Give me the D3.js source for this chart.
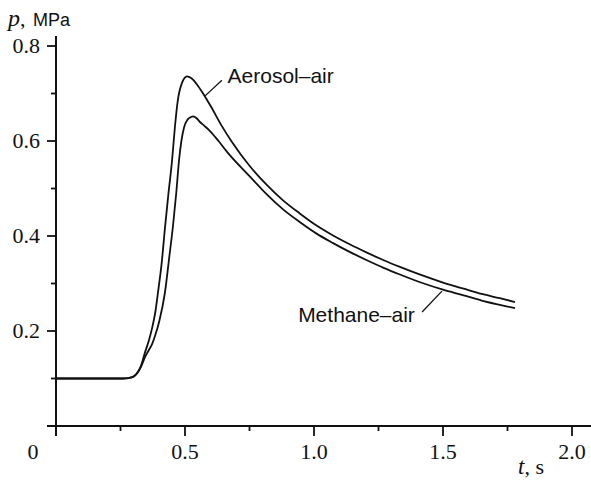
<!DOCTYPE html>
<html>
<head>
<meta charset="utf-8">
<script src="https://cdn.jsdelivr.net/npm/d3@7"></script>
<style>
  html, body { margin: 0; padding: 0; background: #fff; }
  svg { display: block; }
</style>
</head>
<body>
<svg id="chart" width="591" height="481"></svg>
<script>
// Pressure history p(t) for two mixtures
const aerosolT = [0, 0.26, 0.28, 0.30, 0.315, 0.33, 0.345, 0.36, 0.372, 0.385, 0.395, 0.41, 0.422, 0.435, 0.45, 0.461, 0.472, 0.488, 0.508, 0.525, 0.545, 0.57, 0.60, 0.64, 0.682, 0.75, 0.818, 0.88, 0.946, 1.01, 1.074, 1.14, 1.205, 1.27, 1.333, 1.42, 1.5, 1.58, 1.65, 1.72, 1.779];
const aerosolP = [0.1, 0.1, 0.101, 0.104, 0.112, 0.128, 0.155, 0.18, 0.205, 0.24, 0.28, 0.345, 0.415, 0.485, 0.56, 0.63, 0.685, 0.722, 0.736, 0.732, 0.72, 0.70, 0.673, 0.634, 0.598, 0.548, 0.507, 0.475, 0.447, 0.422, 0.401, 0.382, 0.365, 0.349, 0.335, 0.317, 0.302, 0.289, 0.278, 0.269, 0.261];

const methaneT = [0, 0.26, 0.28, 0.30, 0.315, 0.33, 0.345, 0.36, 0.372, 0.384, 0.40, 0.422, 0.44, 0.453, 0.466, 0.477, 0.486, 0.496, 0.51, 0.522, 0.531, 0.545, 0.558, 0.575, 0.597, 0.63, 0.663, 0.75, 0.818, 0.88, 0.946, 1.01, 1.074, 1.14, 1.205, 1.27, 1.333, 1.42, 1.5, 1.58, 1.65, 1.72, 1.779];
const methaneP = [0.1, 0.1, 0.101, 0.104, 0.111, 0.125, 0.145, 0.16, 0.172, 0.19, 0.22, 0.28, 0.36, 0.419, 0.49, 0.56, 0.60, 0.628, 0.645, 0.65, 0.652, 0.648, 0.64, 0.632, 0.621, 0.600, 0.577, 0.526, 0.487, 0.456, 0.429, 0.405, 0.385, 0.366, 0.349, 0.333, 0.319, 0.301, 0.287, 0.275, 0.264, 0.255, 0.248];

const xMajorTicks = [0, 0.5, 1.0, 1.5, 2.0];
const xMinorTicks = [0.25, 0.75, 1.25, 1.75];
const xTickLabels = ["0", "0.5", "1.0", "1.5", "2.0"];
const yMajorTicks = [0.2, 0.4, 0.6, 0.8];
const yMinorTicks = [0.1, 0.3, 0.5, 0.7];
const yTickLabels = ["0.2", "0.4", "0.6", "0.8"];

// Curve labels with leader lines, in data units
const curveLabels = [
  { text: "Aerosol\u2013air", t: 0.665, p: 0.722, anchor: "start", from: [0.643, 0.728], to: [0.578, 0.695] },
  { text: "Methane\u2013air", t: 1.391, p: 0.219, anchor: "end", from: [1.419, 0.240], to: [1.496, 0.284] }
];

const svg = d3.select("#chart");
const x = d3.scaleLinear().domain([0, 2]).range([56, 572]);
const y = d3.scaleLinear().domain([0, 0.8]).range([426, 46]);

const ink = "#111";
const serif = "'Liberation Serif', 'Times New Roman', serif";
const sans = "'Liberation Sans', Arial, sans-serif";

// x axis
const xAxis = svg.append("g").attr("transform", `translate(0,${y(0)})`);
xAxis.append("line").attr("x1", 47).attr("x2", 591).attr("y1", 0).attr("y2", 0)
  .attr("stroke", ink).attr("stroke-width", 2);
xAxis.selectAll(".xmaj").data(xMajorTicks).join("line")
  .attr("x1", d => x(d)).attr("x2", d => x(d)).attr("y1", 0).attr("y2", 10)
  .attr("stroke", ink).attr("stroke-width", 1.8);
xAxis.selectAll(".xmin").data(xMinorTicks).join("line")
  .attr("x1", d => x(d)).attr("x2", d => x(d)).attr("y1", 0).attr("y2", 5)
  .attr("stroke", ink).attr("stroke-width", 1.8);
xAxis.selectAll(".xlab").data(xMajorTicks).join("text")
  .attr("x", (d, i) => i === 0 ? x(d) - 23 : x(d))
  .attr("y", 33)
  .attr("text-anchor", "middle")
  .attr("font-family", serif).attr("font-size", 22).attr("fill", ink)
  .text((d, i) => xTickLabels[i]);

// y axis
const yAxis = svg.append("g").attr("transform", `translate(${x(0)},0)`);
yAxis.append("line").attr("x1", 0).attr("x2", 0).attr("y1", 36).attr("y2", y(0) + 10)
  .attr("stroke", ink).attr("stroke-width", 2);
yAxis.selectAll(".ymaj").data(yMajorTicks).join("line")
  .attr("x1", -9).attr("x2", 0).attr("y1", d => y(d)).attr("y2", d => y(d))
  .attr("stroke", ink).attr("stroke-width", 1.8);
yAxis.selectAll(".ymin").data(yMinorTicks).join("line")
  .attr("x1", -5).attr("x2", 0).attr("y1", d => y(d)).attr("y2", d => y(d))
  .attr("stroke", ink).attr("stroke-width", 1.8);
yAxis.selectAll(".ylab").data(yMajorTicks).join("text")
  .attr("x", -16).attr("y", d => y(d)).attr("dy", "0.34em")
  .attr("text-anchor", "end")
  .attr("font-family", serif).attr("font-size", 22).attr("fill", ink)
  .text((d, i) => yTickLabels[i]);

// axis titles
const yTitle = svg.append("text").attr("x", 8).attr("y", 26).attr("fill", ink);
yTitle.append("tspan").attr("font-family", serif).attr("font-style", "italic").attr("font-size", 24).text("p");
yTitle.append("tspan").attr("font-family", serif).attr("font-size", 22).text(", ");
yTitle.append("tspan").attr("font-family", sans).attr("font-size", 18).attr("dx", 2).text("MPa");

const xTitle = svg.append("text").attr("x", 518).attr("y", 474).attr("fill", ink);
xTitle.append("tspan").attr("font-family", serif).attr("font-style", "italic").attr("font-size", 23).text("t");
xTitle.append("tspan").attr("font-family", serif).attr("font-size", 22).text(", s");

// curves
const line = d3.line().x(d => x(d[0])).y(d => y(d[1])).curve(d3.curveMonotoneX);
const series = [
  aerosolT.map((t, i) => [t, aerosolP[i]]),
  methaneT.map((t, i) => [t, methaneP[i]])
];
svg.selectAll(".curve").data(series).join("path")
  .attr("d", line)
  .attr("fill", "none").attr("stroke", ink).attr("stroke-width", 1.8)
  .attr("stroke-linejoin", "round");

// labels and leaders
svg.selectAll(".leader").data(curveLabels).join("line")
  .attr("x1", d => x(d.from[0])).attr("y1", d => y(d.from[1]))
  .attr("x2", d => x(d.to[0])).attr("y2", d => y(d.to[1]))
  .attr("stroke", ink).attr("stroke-width", 1.3);
svg.selectAll(".clabel").data(curveLabels).join("text")
  .attr("x", d => x(d.t)).attr("y", d => y(d.p))
  .attr("text-anchor", d => d.anchor)
  .attr("font-family", sans).attr("font-size", 21).attr("fill", ink)
  .text(d => d.text);
</script>
</body>
</html>
